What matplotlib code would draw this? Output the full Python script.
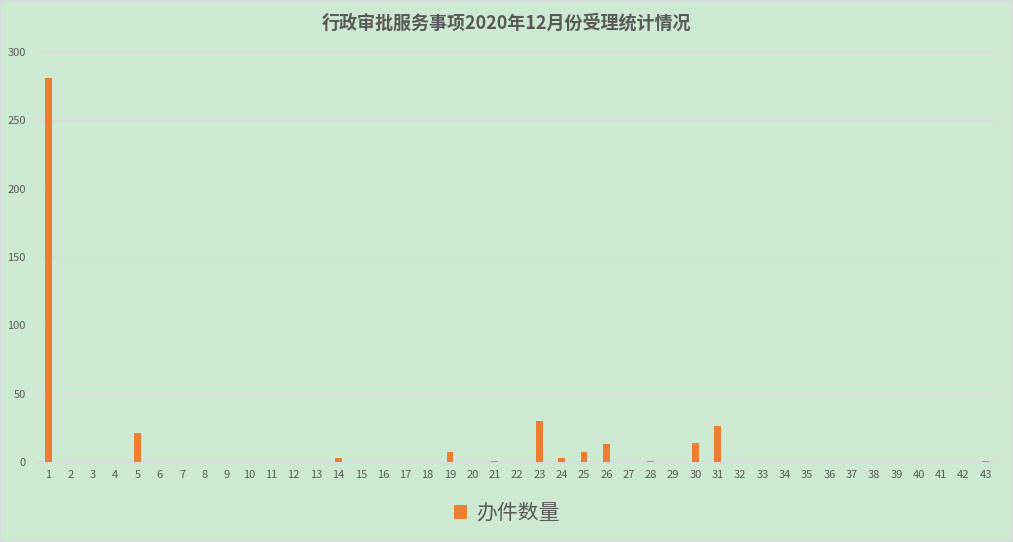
import numpy as np
import matplotlib.pyplot as plt

plt.rcParams['font.family'] = ['Noto Sans CJK SC', 'DejaVu Sans']

# data
items = list(range(1, 44))
counts = [281, 0, 0, 0, 21, 0, 0, 0, 0, 0,
          0, 0, 0, 3, 0, 0, 0, 0, 7, 0,
          1, 0, 30, 3, 7, 13, 0, 1, 0, 14,
          26, 0, 0, 0, 0, 0, 0, 0, 0, 0,
          0, 0, 1]
title = '行政审批服务事项2020年12月份受理统计情况'
series_name = '办件数量'

bg = '#CDE9D1'
bar_color = '#ED7D31'
text_color = '#595959'

fig = plt.figure(figsize=(10.13, 5.42), dpi=100, facecolor=bg)
ax = fig.add_axes([37 / 1013, 80 / 542, 960 / 1013, 410 / 542])
ax.set_facecolor(bg)

x = np.arange(len(items))
ax.bar(x, counts, width=0.31, color=bar_color, label=series_name, zorder=3)

ax.set_xlim(-0.5, len(items) - 0.5)
ax.set_ylim(0, 300)
ax.set_yticks(range(0, 301, 50))
ax.set_xticks(x)
ax.set_xticklabels([str(i) for i in items])
ax.tick_params(axis='both', length=0, labelsize=8, colors=text_color)
ax.tick_params(axis='y', pad=8)
ax.tick_params(axis='x', pad=6)
ax.grid(axis='y', color='#D9D9D9', linewidth=0.8, zorder=0)
for s in ['top', 'right', 'left']:
    ax.spines[s].set_visible(False)
ax.spines['bottom'].set_color('#D9D9D9')

fig.text(0.5, 1 - 23 / 542, title, ha='center', va='center',
         fontsize=13, fontweight='bold', color=text_color)

fig.legend(loc='center', bbox_to_anchor=(0.5, 1 - 513 / 542), frameon=False,
           fontsize=15, labelcolor=text_color, handlelength=0.65,
           handleheight=0.65, handletextpad=0.4)

# light border around the whole chart
fig.patches.append(plt.Rectangle((0, 0), 1, 1, transform=fig.transFigure,
                                 fill=False, edgecolor='#D9D9D9', linewidth=1.5))

fig.savefig('out.png', dpi=100, facecolor=bg)
